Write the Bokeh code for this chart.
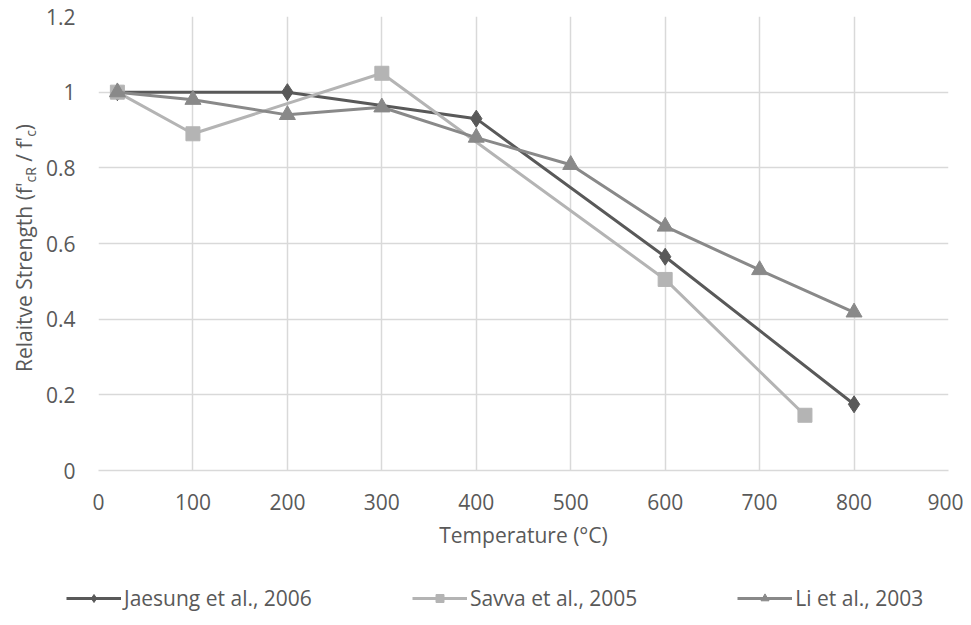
from bokeh.plotting import figure
from bokeh.models import Legend, LegendItem, FixedTicker, NumeralTickFormatter, Range1d, Div
from bokeh.layouts import row, column
from bokeh.embed import file_html
from bokeh.resources import INLINE

# ---- data ----
jaesung_x = [20, 200, 400, 600, 800]
jaesung_y = [1.0, 1.0, 0.93, 0.565, 0.175]
savva_x = [20, 100, 300, 600, 748]
savva_y = [1.0, 0.89, 1.05, 0.505, 0.146]
li_x = [20, 100, 200, 300, 400, 500, 600, 700, 800]
li_y = [1.0, 0.98, 0.94, 0.96, 0.88, 0.808, 0.645, 0.53, 0.418]
x_ticks = [0, 100, 200, 300, 400, 500, 600, 700, 800, 900]
y_ticks = [0, 0.2, 0.4, 0.6, 0.8, 1.0, 1.2]
names = ["Jaesung et al., 2006", "Savva et al., 2005", "Li et al., 2003"]
x_title = "Temperature (°C)"

FONT = "Open Sans"
FS = "21px"
TXT = "#595959"
GRID = "#d9d9d9"
C_J, C_S, C_L = "#595959", "#b4b4b4", "#898989"
STYLES = [(C_J, "diamond", 17), (C_S, "square", 14), (C_L, "triangle", 16)]

LEFT_W = 32
TOP_H = 16 + 454 + 95

p = figure(frame_width=850, frame_height=454, output_backend="svg", toolbar_location=None,
           x_range=Range1d(0, 900), y_range=Range1d(0, 1.2),
           min_border_left=56, min_border_right=15, min_border_top=16, min_border_bottom=95)
p.outline_line_color = None
p.background_fill_color = "white"
p.border_fill_color = "white"

for ax in (p.xaxis[0], p.yaxis[0]):
    ax.major_tick_line_color = None
    ax.minor_tick_line_color = None
    ax.major_tick_out = 0
    ax.major_label_text_font = FONT
    ax.major_label_text_font_size = FS
    ax.major_label_text_color = TXT
    ax.axis_label_text_font = FONT
    ax.axis_label_text_font_style = "normal"
    ax.axis_label_text_font_size = FS
    ax.axis_label_text_color = TXT

p.xaxis.ticker = FixedTicker(ticks=x_ticks)
p.yaxis.ticker = FixedTicker(ticks=y_ticks)
p.yaxis.formatter = NumeralTickFormatter(format="0.[0]")
p.xaxis.axis_line_color = GRID
p.xaxis.axis_line_width = 1.5
p.yaxis.axis_line_color = None
p.xaxis.major_label_standoff = 23
p.yaxis.major_label_standoff = 23
p.xaxis.axis_label = x_title
p.xaxis.axis_label_standoff = 8

p.xgrid.ticker = FixedTicker(ticks=x_ticks)
p.ygrid.ticker = FixedTicker(ticks=y_ticks)
p.grid.grid_line_color = GRID
p.grid.grid_line_width = 1.5

# series
series = [(jaesung_x, jaesung_y), (savva_x, savva_y), (li_x, li_y)]
for (xs, ys), (c, mk, sz) in zip(series, STYLES):
    p.line(xs, ys, line_color=c, line_width=3)
    p.scatter(xs, ys, marker=mk, size=sz, fill_color=c, line_color=c)

# legend strip below the chart: same series drawn out of view, only the legend shows
legfig = figure(width=971, height=625 - TOP_H, output_backend="svg", toolbar_location=None,
                x_range=Range1d(0, 900), y_range=Range1d(10, 11),
                min_border_left=0, min_border_right=0, min_border_top=0, min_border_bottom=0)
legfig.axis.visible = False
legfig.grid.visible = False
legfig.outline_line_color = None
items = []
for nm, (xs, ys), (c, mk, sz) in zip(names, series, STYLES):
    rl = legfig.line(xs, ys, line_color=c, line_width=3)
    rm = legfig.scatter(xs, ys, marker=mk, size=sz, fill_color=c, line_color=c)
    items.append(LegendItem(label=nm, renderers=[rl, rm]))
legend = Legend(items=items, orientation="horizontal", location=(66, 23),
                glyph_width=55, glyph_height=20, label_standoff=3, spacing=100,
                padding=0, margin=0, border_line_color=None, background_fill_alpha=0,
                label_text_font=FONT, label_text_font_size=FS, label_text_color=TXT)
legfig.add_layout(legend, "center")

# y-axis title with subscripts (rotated HTML text)
sub = "font-size:14px; vertical-align:-0.3em; line-height:1"
ylab_html = (
    f'<div style="position:relative; width:{LEFT_W}px; height:{TOP_H}px;">'
    '<div style="position:absolute; left:21px; top:243px; '
    'transform:translate(-50%,-50%) rotate(-90deg); white-space:nowrap; '
    f"font-family:'Open Sans'; font-size:21px; color:{TXT}; line-height:1;\">"
    f"Relaitve Strength (f'<span style=\"{sub}\">cR</span> / f'<span style=\"{sub}\">c</span>)"
    "</div></div>"
)
ylab = Div(text=ylab_html, width=LEFT_W, height=TOP_H, styles={"overflow": "visible"})

layout = column(row(ylab, p, spacing=0), legfig, spacing=0)
open("out.html", "w").write(file_html(layout, INLINE))
